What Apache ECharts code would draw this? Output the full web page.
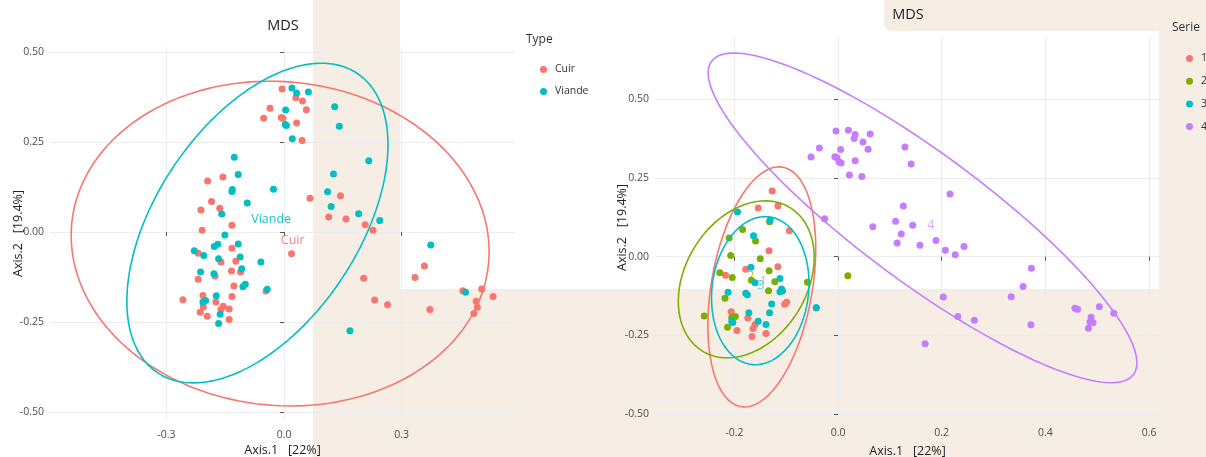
<!DOCTYPE html>
<html>
<head>
<meta charset="utf-8">
<script src="https://cdn.jsdelivr.net/npm/echarts@6/dist/echarts.min.js"></script>
<style>
  html, body { margin: 0; padding: 0; background: #ffffff; }
  #chart { width: 1206px; height: 457px; }
</style>
</head>
<body>
<div id="chart"></div>
<script>
// MDS coordinates [Axis.1, Axis.2], grouped by Type (left panel)
const cuirPoints = [
  [-0.005,0.397],[0.030,0.373],[0.047,0.364],[0.057,0.340],[-0.036,0.344],[-0.052,0.316],
  [-0.007,0.318],[-0.003,0.316],[0.032,0.303],[0.046,0.254],[-0.195,0.142],[-0.156,0.153],
  [-0.185,0.085],[-0.164,0.066],[-0.212,0.061],[0.066,0.094],[-0.133,0.019],[-0.209,0.005],
  [-0.133,-0.045],[-0.219,-0.059],[-0.161,-0.083],[-0.123,-0.081],[-0.134,-0.108],[-0.111,-0.111],
  [-0.219,-0.131],[-0.176,-0.122],[-0.128,-0.150],[-0.258,-0.188],[-0.207,-0.176],[-0.133,-0.179],
  [-0.174,-0.194],[-0.206,-0.208],[-0.155,-0.206],[-0.161,-0.215],[-0.140,-0.214],[-0.214,-0.223],
  [-0.196,-0.234],[-0.140,-0.243],[0.019,-0.060],[-0.046,-0.164],[0.144,0.101],[0.114,0.042],
  [0.158,0.036],[0.207,0.020],[0.227,0.005],[0.203,-0.128],[0.231,-0.189],[0.264,-0.202],
  [0.334,-0.126],[0.358,-0.094],[0.372,-0.215],[0.456,-0.163],[0.504,-0.158],[0.533,-0.179],
  [0.490,-0.192],[0.493,-0.209],[0.484,-0.226]
];
const viandePoints = [
  [0.020,0.400],[0.032,0.386],[0.062,0.389],[0.004,0.339],[0.003,0.299],[0.006,0.296],
  [0.021,0.259],[-0.127,0.208],[-0.117,0.160],[-0.132,0.118],[-0.133,0.113],[-0.027,0.119],
  [-0.094,0.081],[0.129,0.348],[0.141,0.294],[0.216,0.198],[0.126,0.161],[0.111,0.112],
  [0.120,0.071],[0.190,0.051],[0.244,0.032],[0.374,-0.036],[0.463,-0.167],[0.168,-0.274],
  [-0.159,0.050],[-0.151,-0.008],[-0.229,-0.052],[-0.205,-0.065],[-0.178,-0.040],[-0.169,-0.034],
  [-0.117,-0.033],[-0.112,-0.069],[-0.167,-0.074],[-0.059,-0.083],[-0.213,-0.111],[-0.179,-0.116],
  [-0.108,-0.102],[-0.099,-0.145],[-0.105,-0.152],[-0.043,-0.159],[-0.173,-0.177],[-0.200,-0.190],
  [-0.207,-0.194],[-0.163,-0.228],[-0.167,-0.254]
];

// MDS coordinates grouped by Serie (right panel)
const serie1Points = [
  [-0.127,0.208],[-0.154,0.154],[-0.116,0.161],[-0.094,0.082],[-0.133,0.019],[-0.116,-0.032],
  [-0.178,-0.040],[-0.217,-0.059],[-0.103,-0.151],[-0.099,-0.145],[-0.206,-0.175],[-0.174,-0.195],
  [-0.160,-0.215],[-0.164,-0.228],[-0.195,-0.234],[-0.166,-0.253],[-0.139,-0.244],[-0.042,-0.163]
];
const serie2Points = [
  [-0.132,0.111],[-0.184,0.086],[-0.159,0.050],[-0.210,0.059],[-0.207,0.004],[-0.150,-0.007],
  [-0.133,-0.045],[-0.228,-0.051],[-0.204,-0.066],[-0.167,-0.075],[-0.122,-0.080],[-0.134,-0.108],
  [-0.059,-0.081],[-0.218,-0.132],[-0.258,-0.188],[-0.198,-0.190],[-0.205,-0.194],[-0.213,-0.224],
  [0.019,-0.061]
];
const serie3Points = [
  [-0.194,0.142],[-0.131,0.116],[-0.163,0.066],[-0.168,-0.034],[-0.160,-0.083],[-0.112,-0.069],
  [-0.109,-0.103],[-0.107,-0.108],[-0.112,-0.111],[-0.212,-0.113],[-0.178,-0.116],[-0.175,-0.121],
  [-0.128,-0.150],[-0.172,-0.178],[-0.132,-0.178],[-0.154,-0.205],[-0.139,-0.215],[-0.205,-0.205],
  [-0.203,-0.209],[-0.042,-0.161]
];
const serie4Points = [
  [-0.004,0.399],[0.020,0.401],[0.033,0.388],[0.031,0.375],[0.062,0.389],[0.048,0.364],
  [-0.036,0.345],[0.005,0.340],[0.058,0.341],[-0.052,0.316],[-0.006,0.317],[-0.002,0.314],
  [0.002,0.300],[0.006,0.297],[0.033,0.304],[0.129,0.348],[0.141,0.294],[0.022,0.259],
  [0.046,0.254],[0.216,0.199],[-0.026,0.120],[0.126,0.161],[0.067,0.095],[0.111,0.112],
  [0.144,0.100],[0.122,0.072],[0.114,0.043],[0.158,0.036],[0.189,0.051],[0.207,0.020],
  [0.226,0.006],[0.243,0.032],[0.373,-0.037],[0.357,-0.095],[0.334,-0.127],[0.203,-0.128],
  [0.231,-0.190],[0.263,-0.202],[0.372,-0.216],[0.168,-0.276],[0.457,-0.164],[0.462,-0.167],
  [0.504,-0.159],[0.532,-0.180],[0.488,-0.192],[0.486,-0.207],[0.492,-0.210],[0.483,-0.227]
];

const typeNames = ['Cuir', 'Viande'];
const serieNames = ['1', '2', '3', '4'];
const typeColors = ['#F8766D', '#00BFC4'];
const serieColors = ['#F8766D', '#7CAE00', '#00BFC4', '#C77CFF'];

// Confidence ellipses: [centre x, centre y, half-width x, half-height y, correlation]
const typeEllipses = [
  [-0.010, -0.032, 0.533, 0.451, -0.05],
  [-0.068, 0.025, 0.333, 0.444, 0.49]
];
const serieEllipses = [
  [-0.147, -0.096, 0.104, 0.381, 0.32],
  [-0.177, -0.072, 0.131, 0.249, 0.28],
  [-0.150, -0.108, 0.094, 0.235, 0.10],
  [0.163, 0.123, 0.4135, 0.523, -0.88]
];

// Group label anchors
const typeLabelPos = [[0.022, -0.022], [-0.033, 0.036]];
const serieLabelPos = [[-0.144, -0.079], [-0.168, -0.063], [-0.149, -0.090], [0.179, 0.100]];

// Axis ticks
const yTicks = [-0.5, -0.25, 0, 0.25, 0.5];
const xTicksType = [-0.3, 0, 0.3];
const xTicksSerie = [-0.2, 0, 0.2, 0.4, 0.6];

const FONT = '"Open Sans", "Noto Sans", sans-serif';

function ellipseRing(p) {
  const [cx, cy, hx, hy, r] = p;
  const s = Math.sqrt(1 - r * r);
  const pts = [];
  const n = 160;
  for (let i = 0; i <= n; i++) {
    const t = (i / n) * Math.PI * 2;
    pts.push([cx + hx * Math.cos(t), cy + hy * (r * Math.cos(t) + s * Math.sin(t))]);
  }
  return pts;
}

function valueAxis(gridIndex, min, max, ticks, digits, name, nameGap, isY) {
  return {
    type: 'value',
    gridIndex: gridIndex,
    min: min,
    max: max,
    name: name,
    nameLocation: 'middle',
    nameGap: nameGap,
    nameMoveOverlap: false,
    nameTextStyle: { fontFamily: FONT, fontSize: 12.5, color: '#222' },
    axisLine: { show: false },
    axisTick: { show: true, length: 4, customValues: ticks, lineStyle: { color: '#555', width: 1 } },
    axisLabel: {
      customValues: ticks,
      fontFamily: FONT, fontSize: 10.5, color: '#4d4d4d',
      margin: isY ? 6 : 10,
      formatter: v => Number(v).toFixed(digits)
    },
    splitLine: { show: true, lineStyle: { color: '#ececec', width: 1 } }
  };
}

const series = [];
function addGroup(points, name, color, axisIdx) {
  series.push({
    type: 'scatter', name: name, data: points,
    xAxisIndex: axisIdx, yAxisIndex: axisIdx,
    symbol: 'circle', symbolSize: 7,
    itemStyle: { color: color, opacity: 1 },
    emphasis: { disabled: true }
  });
}
function addEllipse(p, name, color, axisIdx) {
  series.push({
    type: 'line', name: name + ' ellipse', data: ellipseRing(p),
    xAxisIndex: axisIdx, yAxisIndex: axisIdx,
    showSymbol: false, symbol: 'none', smooth: false, silent: true,
    lineStyle: { color: color, width: 1.6 },
    z: 3
  });
}
function addLabel(pos, name, color, axisIdx, alpha) {
  series.push({
    type: 'scatter', name: name + ' label', data: [pos],
    xAxisIndex: axisIdx, yAxisIndex: axisIdx,
    symbolSize: 0, silent: true,
    label: {
      show: true, position: 'inside', formatter: name,
      color: color, opacity: alpha, fontFamily: FONT, fontSize: 12.5
    },
    z: 4
  });
}

typeNames.forEach((n, i) => addGroup([cuirPoints, viandePoints][i], n, typeColors[i], 0));
serieNames.forEach((n, i) => addGroup([serie1Points, serie2Points, serie3Points, serie4Points][i], n, serieColors[i], 1));
typeNames.forEach((n, i) => addEllipse(typeEllipses[i], n, typeColors[i], 0));
serieNames.forEach((n, i) => addEllipse(serieEllipses[i], n, serieColors[i], 1));
typeNames.forEach((n, i) => addLabel(typeLabelPos[i], n, typeColors[i], 0, 0.9));
serieNames.forEach((n, i) => addLabel(serieLabelPos[i], n, serieColors[i], 1, 0.7));

const beige = '#f6eee5';
const chart = echarts.init(document.getElementById('chart'), null, { renderer: 'canvas' });
chart.setOption({
  animation: false,
  backgroundColor: '#ffffff',
  grid: [
    { left: 50, top: 47, width: 465, height: 373, outerBoundsMode: 'none', containLabel: false },
    { left: 655, top: 37, width: 505, height: 381, outerBoundsMode: 'none', containLabel: false }
  ],
  xAxis: [
    valueAxis(0, -0.597, 0.589, xTicksType, 1, 'Axis.1   [22%]', 24, false),
    valueAxis(1, -0.353, 0.621, xTicksSerie, 1, 'Axis.1   [22%]', 27, false)
  ],
  yAxis: [
    valueAxis(0, -0.522, 0.514, yTicks, 2, 'Axis.2   [19.4%]', 25, true),
    valueAxis(1, -0.512, 0.697, yTicks, 2, 'Axis.2   [19.4%]', 26, true)
  ],
  legend: [
    {
      data: typeNames, orient: 'vertical', left: 535, top: 59,
      icon: 'circle', itemWidth: 7, itemHeight: 7, itemGap: 11,
      textStyle: { fontFamily: FONT, fontSize: 10.5, color: '#333', padding: [0, 0, 0, 3] },
      selectedMode: false
    },
    {
      data: serieNames, orient: 'vertical', left: 1181, top: 48,
      icon: 'circle', itemWidth: 7, itemHeight: 7, itemGap: 11.7,
      textStyle: { fontFamily: FONT, fontSize: 10.5, color: '#333', padding: [0, 0, 0, 3] },
      selectedMode: false
    }
  ],
  graphic: [
    { type: 'rect', z: -10, silent: true, shape: { x: 313, y: 0, width: 87, height: 457 }, style: { fill: beige } },
    { type: 'rect', z: -10, silent: true, shape: { x: 400, y: 289, width: 806, height: 168 }, style: { fill: beige } },
    { type: 'rect', z: -10, silent: true, shape: { x: 1159, y: 0, width: 47, height: 457 }, style: { fill: beige } },
    { type: 'rect', z: -10, silent: true, shape: { x: 884, y: 0, width: 322, height: 31, r: [0, 0, 0, 8] }, style: { fill: beige } },
    { type: 'text', z: 10, silent: true, style: { x: 283, y: 26, text: 'MDS', textAlign: 'center', textVerticalAlign: 'middle', font: '14.5px ' + FONT, fill: '#222' } },
    { type: 'text', z: 10, silent: true, style: { x: 908, y: 15, text: 'MDS', textAlign: 'center', textVerticalAlign: 'middle', font: '14.5px ' + FONT, fill: '#222' } },
    { type: 'text', z: 10, silent: true, style: { x: 526, y: 40, text: 'Type', textAlign: 'left', textVerticalAlign: 'middle', font: '12px ' + FONT, fill: '#333' } },
    { type: 'text', z: 10, silent: true, style: { x: 1172, y: 28, text: 'Serie', textAlign: 'left', textVerticalAlign: 'middle', font: '12px ' + FONT, fill: '#333' } }
  ],
  series: series
});
</script>
</body>
</html>
